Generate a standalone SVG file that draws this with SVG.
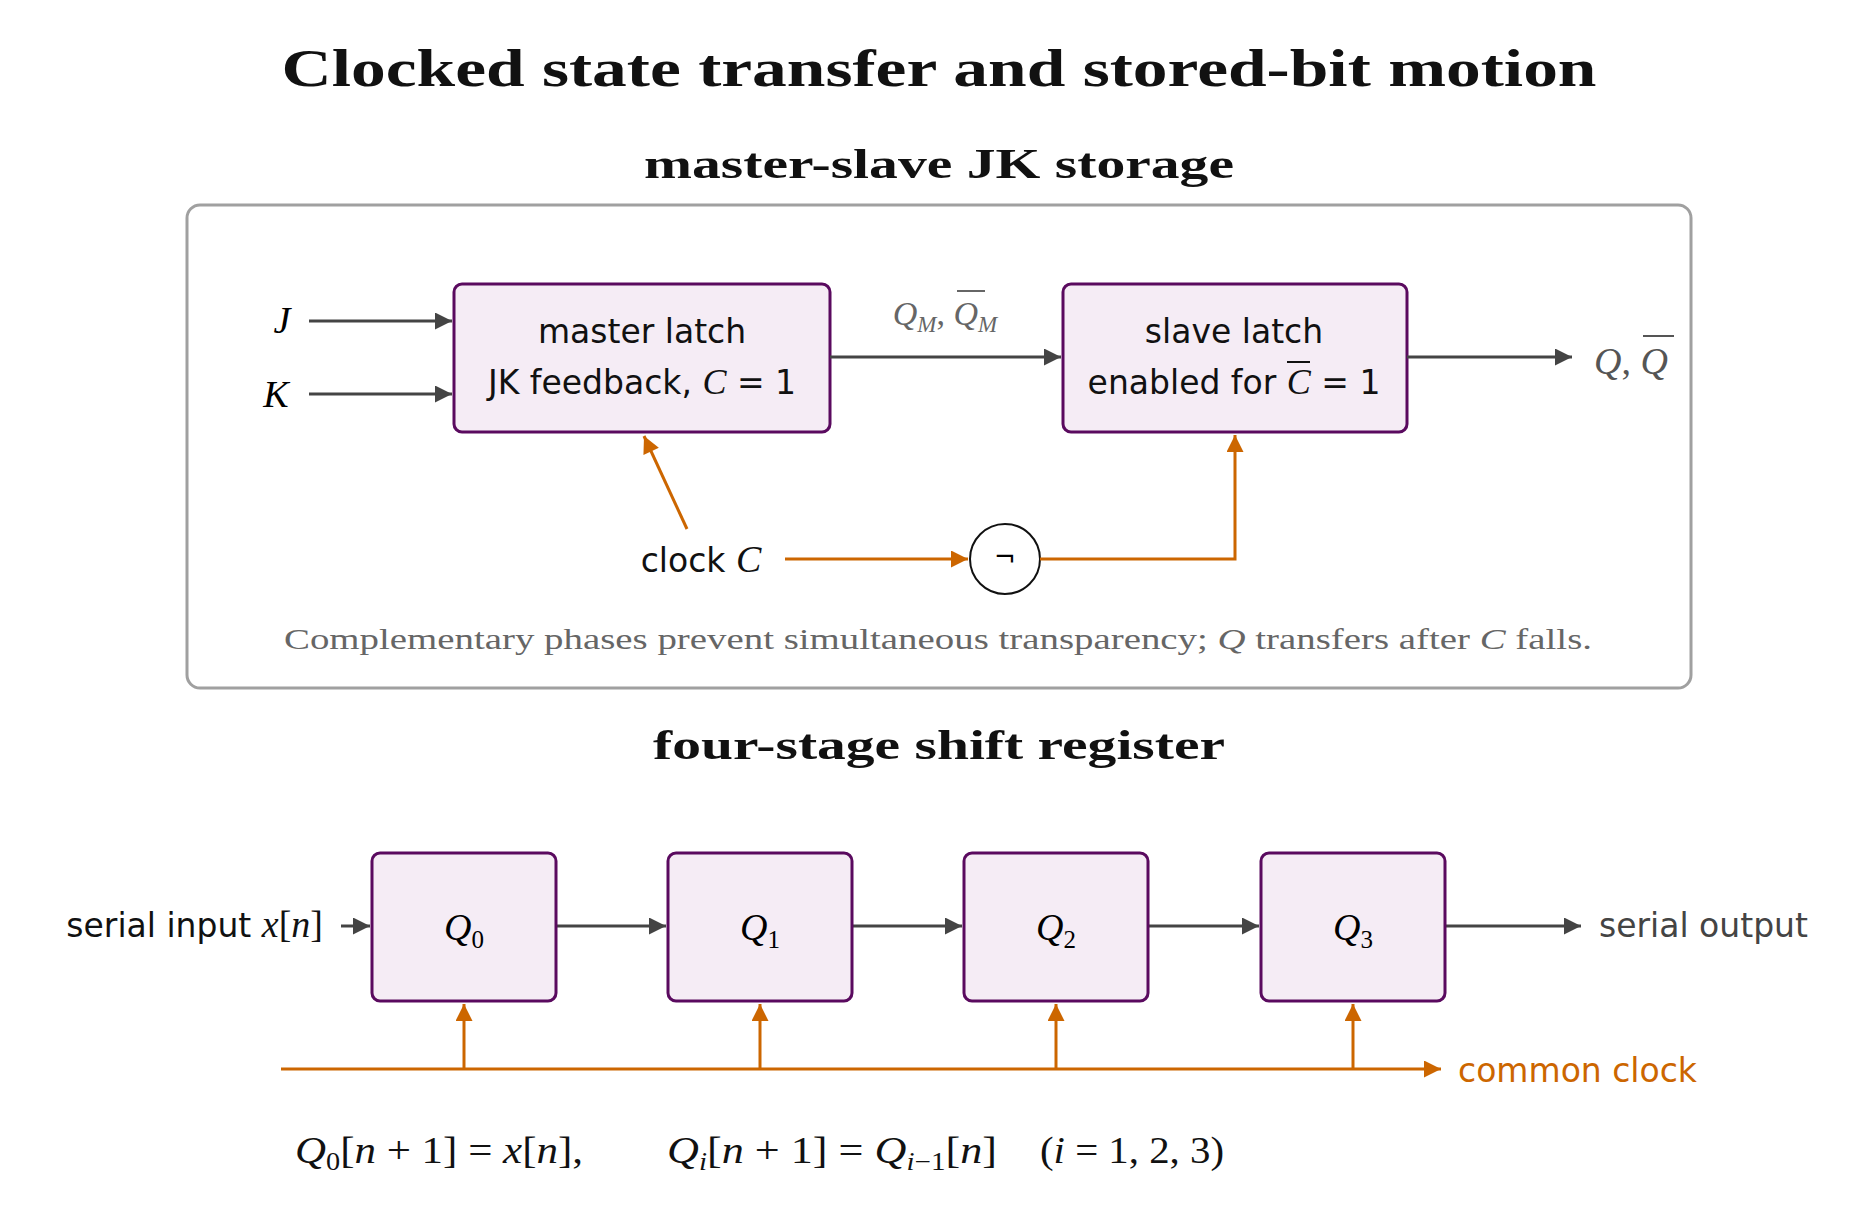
<svg xmlns="http://www.w3.org/2000/svg" width="1858" height="1215" viewBox="0 0 1858 1215">
<defs>
<marker id="a" viewBox="0 0 10 10" markerWidth="26" markerHeight="17" refX="10" refY="5" orient="auto" markerUnits="userSpaceOnUse"><path d="M0,0 L10,5 L0,10 z" fill="#444"/></marker>
<marker id="o" viewBox="0 0 10 10" markerWidth="26" markerHeight="17" refX="10" refY="5" orient="auto" markerUnits="userSpaceOnUse"><path d="M0,0 L10,5 L0,10 z" fill="#cc6600"/></marker>
</defs>
<style>
.t{font-family:"Liberation Serif",serif;font-weight:bold;fill:#111;text-anchor:middle}
.box{fill:#f5ecf5;stroke:#5a0a5f;stroke-width:3}
.s{font-family:"DejaVu Sans","Liberation Sans",sans-serif;font-size:33px;fill:#111}
.c{text-anchor:middle}
.m{font-family:"Liberation Serif",serif;font-style:italic}
.r{font-family:"Liberation Serif",serif}
.g{stroke:#444;stroke-width:3;fill:none}
.or{stroke:#cc6600;stroke-width:3;fill:none}
</style>
<rect width="1858" height="1215" fill="#fff"/>
<text class="t" x="939" y="86" font-size="52" textLength="1315" lengthAdjust="spacingAndGlyphs">Clocked state transfer and stored-bit motion</text>
<text class="t" x="939" y="178" font-size="42" textLength="590" lengthAdjust="spacingAndGlyphs">master-slave JK storage</text>
<rect x="187" y="205" width="1504" height="483" rx="13" fill="none" stroke="#a0a0a0" stroke-width="3"/>
<text class="t" x="939" y="759" font-size="42" textLength="572" lengthAdjust="spacingAndGlyphs">four-stage shift register</text>

<g id="master"><rect class="box" x="454" y="284" width="376" height="148" rx="8"/>
<text class="s c" x="642" y="343">master latch</text>
<text class="s c" x="642" y="394">JK feedback, <tspan class="m" font-size="36">C</tspan> = 1</text></g>
<g id="slave"><rect class="box" x="1063" y="284" width="344" height="148" rx="8"/>
<text class="s c" x="1234" y="343">slave latch</text>
<text class="s c" x="1234" y="394">enabled for <tspan class="m" font-size="36">C</tspan> = 1</text>
<line x1="1287" y1="362" x2="1310" y2="362" stroke="#111" stroke-width="2"/></g>
<g id="not"><circle cx="1005" cy="559" r="35" fill="#fff" stroke="#111" stroke-width="2"/>
<text x="1005" y="566" font-family="DejaVu Sans,sans-serif" font-size="26" text-anchor="middle">¬</text></g>
<g id="labels1">
<text class="m" x="282" y="333" font-size="38" text-anchor="middle">J</text>
<text class="m" x="276" y="407" font-size="38" text-anchor="middle">K</text>
<text x="945" y="325" font-size="34" fill="#666" text-anchor="middle"><tspan class="m">Q</tspan><tspan class="m" font-size="23" dy="7">M</tspan><tspan class="r" dy="-7">, </tspan><tspan class="m">Q</tspan><tspan class="m" font-size="23" dy="7">M</tspan></text>
<line x1="957" y1="291" x2="985" y2="291" stroke="#666" stroke-width="2"/>
<text x="1631" y="374" font-size="38" fill="#555" text-anchor="middle"><tspan class="m">Q</tspan><tspan class="r">, </tspan><tspan class="m">Q</tspan></text>
<line x1="1643" y1="336" x2="1674" y2="336" stroke="#555" stroke-width="2"/>
<text class="s c" x="701" y="572">clock <tspan class="m" font-size="38">C</tspan></text>
<text class="r" x="938" y="649" font-size="29" fill="#666" text-anchor="middle" textLength="1308" lengthAdjust="spacingAndGlyphs">Complementary phases prevent simultaneous transparency; <tspan class="m">Q</tspan> transfers after <tspan class="m">C</tspan> falls.</text>
</g>
<g id="connectors">
<line class="g" x1="309" y1="321" x2="452" y2="321" marker-end="url(#a)"/>
<line class="g" x1="309" y1="394" x2="452" y2="394" marker-end="url(#a)"/>
<line class="g" x1="830" y1="357" x2="1061" y2="357" marker-end="url(#a)"/>
<line class="g" x1="1407" y1="357" x2="1572" y2="357" marker-end="url(#a)"/>
<line class="or" x1="687" y1="529" x2="644" y2="436" marker-end="url(#o)"/>
<line class="or" x1="785" y1="559" x2="968" y2="559" marker-end="url(#o)"/>
<polyline class="or" points="1040,559 1235,559 1235,435" marker-end="url(#o)"/>
<line class="g" x1="341" y1="926" x2="370" y2="926" marker-end="url(#a)"/>
<line class="g" x1="556" y1="926" x2="666" y2="926" marker-end="url(#a)"/>
<line class="g" x1="852" y1="926" x2="962" y2="926" marker-end="url(#a)"/>
<line class="g" x1="1148" y1="926" x2="1259" y2="926" marker-end="url(#a)"/>
<line class="g" x1="1446" y1="926" x2="1581" y2="926" marker-end="url(#a)"/>
<line class="or" x1="281" y1="1069" x2="1441" y2="1069" marker-end="url(#o)"/>
<line class="or" x1="464" y1="1069" x2="464" y2="1004" marker-end="url(#o)"/>
<line class="or" x1="760" y1="1069" x2="760" y2="1004" marker-end="url(#o)"/>
<line class="or" x1="1056" y1="1069" x2="1056" y2="1004" marker-end="url(#o)"/>
<line class="or" x1="1353" y1="1069" x2="1353" y2="1004" marker-end="url(#o)"/>
</g>
<g id="q0"><rect class="box" x="372" y="853" width="184" height="148" rx="8"/><text x="464" y="940" font-size="38" text-anchor="middle"><tspan class="m">Q</tspan><tspan class="r" font-size="25" dy="8">0</tspan></text></g>
<g id="q1"><rect class="box" x="668" y="853" width="184" height="148" rx="8"/><text x="760" y="940" font-size="38" text-anchor="middle"><tspan class="m">Q</tspan><tspan class="r" font-size="25" dy="8">1</tspan></text></g>
<g id="q2"><rect class="box" x="964" y="853" width="184" height="148" rx="8"/><text x="1056" y="940" font-size="38" text-anchor="middle"><tspan class="m">Q</tspan><tspan class="r" font-size="25" dy="8">2</tspan></text></g>
<g id="q3"><rect class="box" x="1261" y="853" width="184" height="148" rx="8"/><text x="1353" y="940" font-size="38" text-anchor="middle"><tspan class="m">Q</tspan><tspan class="r" font-size="25" dy="8">3</tspan></text></g>
<g id="labels2">
<text class="s" x="323" y="937" text-anchor="end">serial input <tspan class="m" font-size="38">x</tspan><tspan class="r" font-size="38">[</tspan><tspan class="m" font-size="38">n</tspan><tspan class="r" font-size="38">]</tspan></text>
<text class="s" x="1599" y="937" style="fill:#444">serial output</text>
<text class="s" x="1458" y="1082" style="fill:#cc6600">common clock</text>
<text x="295" y="1163" font-size="38" fill="#111" textLength="288" lengthAdjust="spacingAndGlyphs"><tspan class="m">Q</tspan><tspan class="r" font-size="25" dy="7">0</tspan><tspan class="r" dy="-7">[</tspan><tspan class="m">n</tspan><tspan class="r"> + 1] = </tspan><tspan class="m">x</tspan><tspan class="r">[</tspan><tspan class="m">n</tspan><tspan class="r">],</tspan></text>
<text x="667" y="1163" font-size="38" fill="#111" textLength="330" lengthAdjust="spacingAndGlyphs"><tspan class="m">Q</tspan><tspan class="m" font-size="25" dy="7">i</tspan><tspan class="r" dy="-7">[</tspan><tspan class="m">n</tspan><tspan class="r"> + 1] = </tspan><tspan class="m">Q</tspan><tspan class="m" font-size="25" dy="7">i</tspan><tspan class="r" font-size="25">−1</tspan><tspan class="r" dy="-7">[</tspan><tspan class="m">n</tspan><tspan class="r">]</tspan></text>
<text x="1040" y="1163" font-size="38" fill="#111" textLength="184" lengthAdjust="spacingAndGlyphs"><tspan class="r">(</tspan><tspan class="m">i</tspan><tspan class="r"> = 1, 2, 3)</tspan></text>
</g>
</svg>
